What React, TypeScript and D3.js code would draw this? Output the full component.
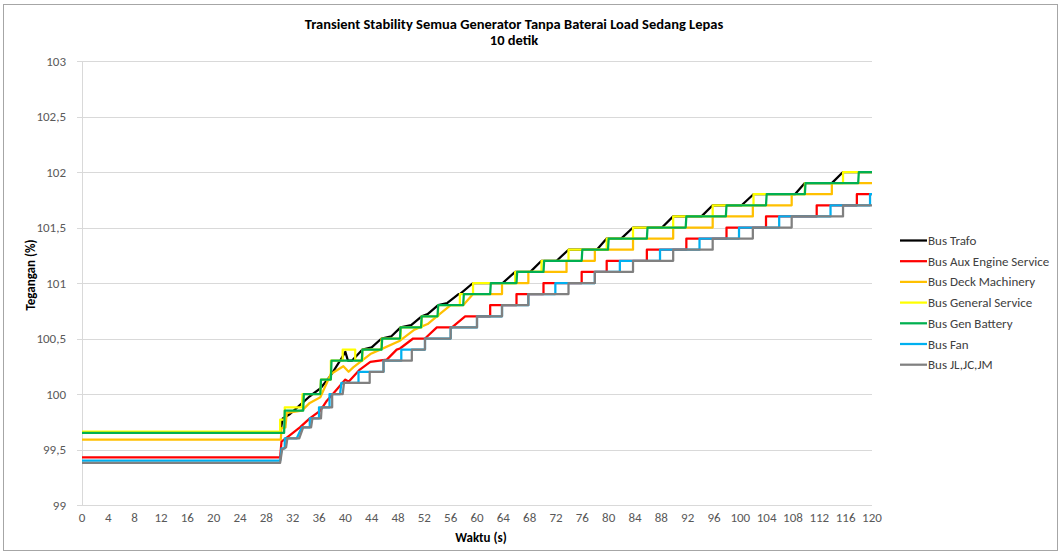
import React from "react";
import * as d3 from "d3";

const title1 = "Transient Stability Semua Generator Tanpa  Baterai Load Sedang Lepas";
const title2 = "10 detik";
const yTicks = [99, 99.5, 100, 100.5, 101, 101.5, 102, 102.5, 103];
const xTicks = d3.range(0, 121, 4);

const busTrafo: [number, number][] = [[0,99.65],[30.1,99.65],[30.5,99.78],[31.6,99.82],[33.1,99.9],[34.6,99.98],[36.2,100.05],[37.7,100.16],[39.2,100.3],[40.0,100.38],[40.4,100.3],[41.0,100.3],[42.6,100.4],[44.0,100.42],[45.5,100.5],[47.0,100.52],[48.4,100.6],[50.0,100.62],[51.6,100.7],[52.5,100.72],[54.1,100.8],[55.5,100.82],[57.2,100.9],[57.4,100.9],[59.4,101.0],[63.9,101.0],[65.8,101.1],[68.1,101.1],[69.8,101.2],[72.1,101.2],[73.9,101.3],[78.2,101.3],[79.7,101.4],[81.9,101.4],[83.7,101.5],[88.1,101.5],[89.8,101.6],[94.1,101.6],[95.8,101.7],[100.2,101.7],[102.0,101.8],[108.3,101.8],[109.8,101.9],[113.9,101.9],[115.6,102.0],[120,102.0]];

const busAux: [number, number][] = [[0,99.43],[30.1,99.43],[30.3,99.57],[31.6,99.63],[33.1,99.7],[34.6,99.78],[36.2,99.85],[37.2,99.94],[38.7,100.04],[40.0,100.13],[40.5,100.11],[42.2,100.22],[43.8,100.29],[46.3,100.31],[47.8,100.4],[48.3,100.41],[50.3,100.5],[52.1,100.5],[53.9,100.6],[56.2,100.6],[58.2,100.7],[62.0,100.7],[62.0,100.8],[66.0,100.8],[66.0,100.9],[70.1,100.9],[70.1,101.0],[75.9,101.0],[75.9,101.1],[79.7,101.1],[79.7,101.2],[85.8,101.2],[85.8,101.3],[91.8,101.3],[91.8,101.4],[97.9,101.4],[97.9,101.5],[103.9,101.5],[103.9,101.6],[111.6,101.6],[111.6,101.7],[117.7,101.7],[117.7,101.8],[120,101.8]];

const busDeck: [number, number][] = [[0,99.59],[30.2,99.59],[30.3,99.69],[30.9,99.7],[31.1,99.83],[33.4,99.85],[34.6,99.92],[36.2,99.97],[37.8,100.18],[39.7,100.25],[40.5,100.2],[41.2,100.24],[43.8,100.36],[45.3,100.4],[48.3,100.48],[50.5,100.58],[52.5,100.63],[53.9,100.7],[56.0,100.8],[57.9,100.8],[59.4,100.9],[63.8,100.9],[63.8,101.0],[67.8,101.0],[67.8,101.1],[73.6,101.1],[73.6,101.2],[77.9,101.2],[77.9,101.3],[83.7,101.3],[83.7,101.4],[89.8,101.4],[89.8,101.5],[95.8,101.5],[95.8,101.6],[101.9,101.6],[101.9,101.7],[107.8,101.7],[107.8,101.8],[113.9,101.8],[113.9,101.9],[120,101.9]];

const busGeneral: [number, number][] = [[0,99.66],[30.1,99.66],[30.1,99.77],[30.8,99.77],[30.8,99.88],[33.4,99.88],[33.5,100.0],[36.2,100.0],[36.3,100.13],[37.8,100.13],[37.8,100.3],[39.6,100.3],[39.6,100.4],[41.5,100.4],[41.5,100.3],[42.6,100.3],[42.6,100.4],[45.5,100.4],[45.5,100.5],[48.4,100.5],[48.4,100.6],[51.6,100.6],[51.6,100.7],[54.1,100.7],[54.1,100.8],[57.4,100.8],[57.4,100.9],[59.4,100.9],[59.4,101.0],[65.8,101.0],[65.8,101.1],[69.8,101.1],[69.8,101.2],[73.9,101.2],[73.9,101.3],[79.7,101.3],[79.7,101.4],[83.7,101.4],[83.7,101.5],[89.8,101.5],[89.8,101.6],[95.8,101.6],[95.8,101.7],[102.0,101.7],[102.0,101.8],[109.8,101.8],[109.8,101.9],[115.6,101.9],[115.6,102.0],[120,102.0]];

const busGenBattery: [number, number][] = [[0,99.65],[30.7,99.65],[30.8,99.85],[33.6,99.85],[33.7,100.0],[36.2,100.0],[36.3,100.13],[37.8,100.13],[37.9,100.3],[42.5,100.3],[42.6,100.4],[45.5,100.4],[45.6,100.5],[48.3,100.5],[48.4,100.6],[51.5,100.6],[51.6,100.7],[54.0,100.7],[54.1,100.8],[57.9,100.8],[58.0,100.9],[62.0,100.9],[62.1,101.0],[66.0,101.0],[66.1,101.1],[70.1,101.1],[70.2,101.2],[75.9,101.2],[76.0,101.3],[79.9,101.3],[80.0,101.4],[85.8,101.4],[85.9,101.5],[91.7,101.5],[91.8,101.6],[97.8,101.6],[97.9,101.7],[103.9,101.7],[104.0,101.8],[109.8,101.8],[109.9,101.9],[117.9,101.9],[118.0,102.0],[120,102.0]];

const busFan: [number, number][] = [[0,99.4],[30.1,99.4],[30.3,99.51],[30.8,99.51],[30.8,99.6],[32.6,99.6],[33.4,99.7],[34.6,99.7],[34.6,99.78],[36.0,99.78],[36.0,99.88],[37.6,99.88],[37.6,100.0],[39.2,100.0],[39.4,100.1],[42.0,100.1],[42.0,100.2],[45.8,100.2],[45.8,100.3],[48.5,100.3],[48.5,100.4],[52.1,100.4],[52.1,100.5],[56.0,100.5],[56.0,100.6],[60.0,100.6],[60.0,100.7],[63.8,100.7],[63.8,100.8],[67.8,100.8],[67.8,100.9],[71.9,100.9],[71.9,101.0],[77.9,101.0],[77.9,101.1],[81.7,101.1],[81.7,101.2],[87.8,101.2],[87.8,101.3],[93.8,101.3],[93.8,101.4],[99.8,101.4],[99.8,101.5],[105.9,101.5],[105.9,101.6],[113.7,101.6],[113.7,101.7],[119.7,101.7],[119.7,101.8],[120,101.8]];

const busJL: [number, number][] = [[0,99.38],[30.1,99.38],[30.4,99.5],[31.0,99.52],[31.2,99.6],[33.0,99.6],[33.6,99.7],[34.8,99.7],[35.0,99.78],[36.3,99.78],[36.4,99.88],[38.0,99.88],[38.0,100.0],[39.6,100.0],[39.8,100.1],[43.7,100.1],[43.7,100.2],[45.8,100.2],[45.8,100.3],[50.1,100.3],[50.1,100.4],[52.1,100.4],[52.1,100.5],[56.0,100.5],[56.0,100.6],[60.0,100.6],[60.0,100.7],[63.8,100.7],[63.8,100.8],[67.8,100.8],[67.8,100.9],[73.9,100.9],[73.9,101.0],[77.9,101.0],[77.9,101.1],[83.7,101.1],[83.7,101.2],[89.8,101.2],[89.8,101.3],[95.8,101.3],[95.8,101.4],[101.9,101.4],[101.9,101.5],[107.8,101.5],[107.8,101.6],[115.6,101.6],[115.6,101.7],[120,101.7]];

const seriesNames = ["Bus Trafo", "Bus Aux Engine Service", "Bus Deck Machinery", "Bus General Service", "Bus Gen Battery", "Bus Fan", "Bus JL,JC,JM"];
const seriesColors = ["#000000", "#ff0000", "#ffc000", "#ffff00", "#00b050", "#00b0f0", "#808080"];
const seriesData = [busTrafo, busAux, busDeck, busGeneral, busGenBattery, busFan, busJL];

const W = 1062, H = 555;
const M = { left: 82, right: 872, top: 61, bottom: 505 };

export default function App() {
  const x = d3.scaleLinear().domain([0, 120]).range([M.left, M.right]);
  const y = d3.scaleLinear().domain([99, 103]).range([M.bottom, M.top]);
  const line = d3.line<[number, number]>().x(d => x(d[0])).y(d => y(d[1]));
  const font = "Calibri, Carlito, Lato, 'Open Sans', sans-serif";
  return (
    <svg width={W} height={H} style={{ position: "absolute", left: 0, top: 0, background: "#fff" }} fontFamily={font}>
      <rect x={3.5} y={4.5} width={1054} height={546} fill="#fff" stroke="#a6a6a6" strokeWidth={1} />
      <text x={514} y={29} textAnchor="middle" fontWeight="bold" fontSize={14.5} fill="#000">{title1}</text>
      <text x={514} y={45} textAnchor="middle" fontWeight="bold" fontSize={14.5} fill="#000">{title2}</text>
      {yTicks.map(t => (
        <g key={t}>
          <line x1={M.left - 5} x2={M.right} y1={Math.round(y(t)) + 0.5} y2={Math.round(y(t)) + 0.5} stroke="#d9d9d9" strokeWidth={1} />
          <text x={66} y={y(t) + 4.5} textAnchor="end" fontSize={13} fill="#595959">{String(t).replace(".", ",")}</text>
        </g>
      ))}
      <line x1={M.left + 0.5} x2={M.left + 0.5} y1={M.top} y2={M.bottom} stroke="#d9d9d9" />
      {xTicks.map(t => (
        <text key={t} x={x(t)} y={522} textAnchor="middle" fontSize={13} fill="#595959">{t}</text>
      ))}
      <text x={481} y={542} textAnchor="middle" fontWeight="bold" fontSize={13} fill="#000">Waktu (s)</text>
      <text transform={`translate(35,275) rotate(-90)`} textAnchor="middle" fontWeight="bold" fontSize={13} fill="#000">Tegangan (%)</text>
      {seriesData.map((d, i) => (
        <path key={i} d={line(d) || ""} fill="none" stroke={seriesColors[i]} strokeWidth={2.25} strokeLinejoin="round" />
      ))}
      {seriesNames.map((n, i) => {
        const ly = 240.5 + i * 20.7;
        return (
          <g key={n}>
            <line x1={900} x2={927} y1={ly} y2={ly} stroke={seriesColors[i]} strokeWidth={2.25} />
            <text x={928} y={ly + 4.5} fontSize={13} fill="#404040">{n}</text>
          </g>
        );
      })}
    </svg>
  );
}
